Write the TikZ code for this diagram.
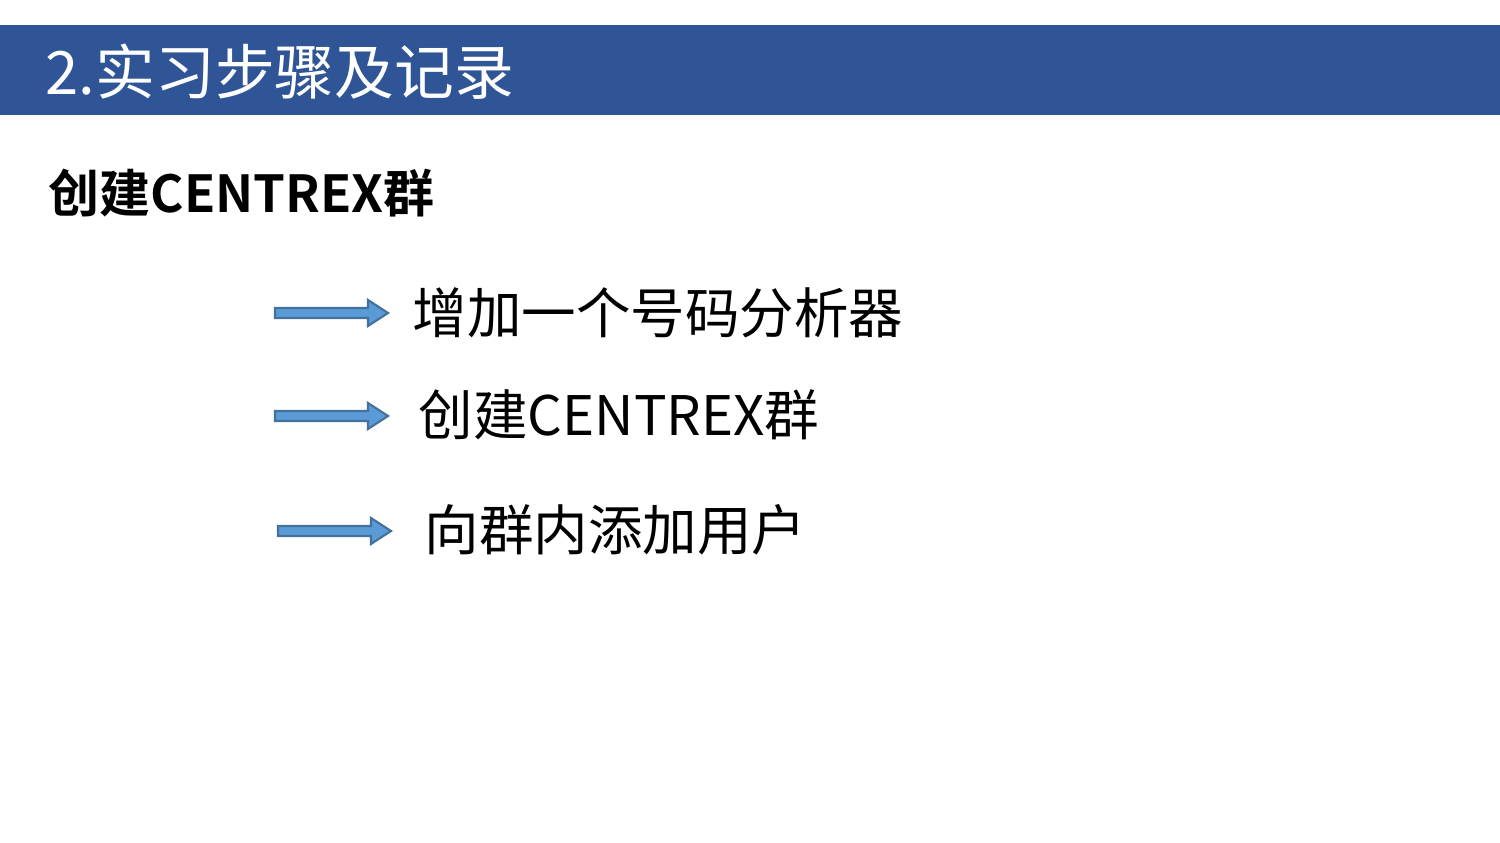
\documentclass[tikz,border=0pt]{standalone}
\usepackage{fontspec}
\setmainfont{Noto Sans CJK SC}
\newfontfamily\cjkb{Noto Sans CJK SC Bold}
\definecolor{band}{HTML}{2F5597}
\definecolor{afill}{HTML}{5B9BD5}
\definecolor{aline}{HTML}{41719C}
\begin{document}
\begin{tikzpicture}[x=0.01cm,y=-0.01cm,
  item/.style={anchor=west,inner sep=0pt,font=\fontsize{15.5pt}{18pt}\selectfont},
  barrow/.style={fill=afill,draw=aline,line width=0.6pt}]
\useasboundingbox (0,0) rectangle (1500,843);
\fill[white] (0,0) rectangle (1500,843);
\fill[band] (0,25) rectangle (1500,115);
\node[anchor=west,inner sep=0pt,text=white,font=\fontsize{17pt}{20pt}\selectfont] (hdr) at (45,72) {2.实习步骤及记录};
\node[anchor=west,inner sep=0pt,font=\cjkb\fontsize{14.5pt}{17pt}\selectfont] (ttl) at (48,193) {创建CENTREX群};
\newcommand\blockarrow[2]{%
  \draw[barrow] (#1,#2-5) -- (#1+93,#2-5) -- (#1+93,#2-13) -- (#1+113,#2) -- (#1+93,#2+13) -- (#1+93,#2+5) -- (#1,#2+5) -- cycle;}
\blockarrow{275}{313}
\blockarrow{275}{416}
\blockarrow{278}{531}
\node[item] (i1) at (412,313) {增加一个号码分析器};
\node[item] (i2) at (418,415) {创建CENTREX群};
\node[item] (i3) at (424,530) {向群内添加用户};
\end{tikzpicture}
\end{document}
